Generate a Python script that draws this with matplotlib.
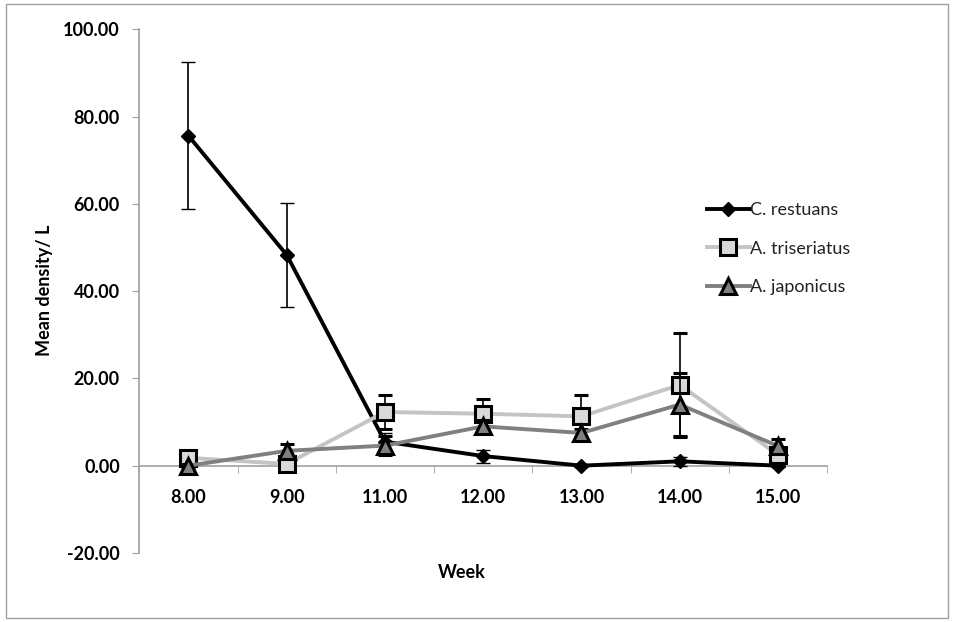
import matplotlib.pyplot as plt
from matplotlib.patches import Rectangle
from matplotlib.lines import Line2D
import numpy as np

weeks = ['8.00', '9.00', '11.00', '12.00', '13.00', '14.00', '15.00']

restuans = [75.6, 48.3, 5.5, 2.2, 0.0, 1.0, 0.0]
restuans_err = [16.8, 11.9, 2.0, 1.5, 0.3, 1.0, 0.3]

triseriatus = [1.8, 0.4, 12.3, 11.9, 11.3, 18.5, 2.5]
triseriatus_err = [0.5, 0.3, 3.8, 3.4, 5.0, 12.0, 1.0]

japonicus = [0.0, 3.4, 4.6, 9.0, 7.5, 14.0, 4.5]
japonicus_err = [0.3, 1.5, 2.2, 1.5, 1.0, 7.2, 1.5]

plt.rcParams['font.family'] = ['Lato', 'DejaVu Sans']

fig = plt.figure(figsize=(9.54, 6.22), dpi=100)
ax = fig.add_axes([0.146, 0.111, 0.721, 0.842])

# spine position first, it resets the ticks
for s in ['top', 'right']:
    ax.spines[s].set_visible(False)
ax.spines['bottom'].set_position(('data', 0))
ax.spines['bottom'].set_color('#a0a0a0')
ax.spines['left'].set_color('#a0a0a0')
ax.spines['bottom'].set_linewidth(1.2)
ax.spines['left'].set_linewidth(1.2)

x = np.arange(len(weeks))

err_kw = dict(ecolor='black', elinewidth=1.2, capsize=5, capthick=1.2)

styles = [
    dict(color='black', marker='D', ms=7, mfc='black', mec='black', mew=1),
    dict(color='#c4c4c4', marker='s', ms=12, mfc='#d9d9d9', mec='black', mew=2.2),
    dict(color='#808080', marker='^', ms=12, mfc='#808080', mec='black', mew=2.2),
]
names = ['C. restuans', 'A. triseriatus', 'A. japonicus']
series = [(restuans, restuans_err), (triseriatus, triseriatus_err),
          (japonicus, japonicus_err)]

for i, (vals, errs) in enumerate(series):
    ax.errorbar(x, vals, yerr=errs, lw=2.8, zorder=3 + i, **styles[i], **err_kw)

ax.set_xlim(-0.5, len(weeks) - 0.5)
ax.set_ylim(-20, 100)
yt = np.arange(-20, 101, 20)
ax.set_yticks(yt)
ax.set_yticklabels(['%.2f' % v for v in yt], fontsize=13, fontweight='bold')

ax.set_xticks(x)
ax.set_xticklabels(weeks, fontsize=13, fontweight='bold')
ax.set_xticks(np.arange(-0.5, len(weeks)), minor=True)
ax.tick_params(axis='x', which='major', length=0, pad=17)
ax.tick_params(axis='x', which='minor', length=5, color='#a0a0a0', direction='out')
ax.tick_params(axis='y', length=5, color='#a0a0a0', direction='out', pad=9)

fig.text(0.484, 0.08, 'Week', ha='center', va='center',
         fontsize=13, fontweight='bold')
fig.text(0.047, 0.533, 'Mean density/ L', ha='center', va='center',
         rotation=90, fontsize=13, fontweight='bold')

handles = [Line2D([], [], lw=2.8, **st) for st in styles]
leg = ax.legend(handles, names, loc='center left', bbox_to_anchor=(0.825, 0.581),
                frameon=False, fontsize=13, handlelength=2.4, handletextpad=0.0,
                labelspacing=1.25, borderaxespad=0, borderpad=0)
for t in leg.get_texts():
    t.set_color('#222222')

fig.patches.append(Rectangle((0.006, 0.006), 0.988, 0.988,
                             transform=fig.transFigure, fill=False,
                             edgecolor='#a0a0a0', lw=1))

fig.savefig('out.png', dpi=100)
